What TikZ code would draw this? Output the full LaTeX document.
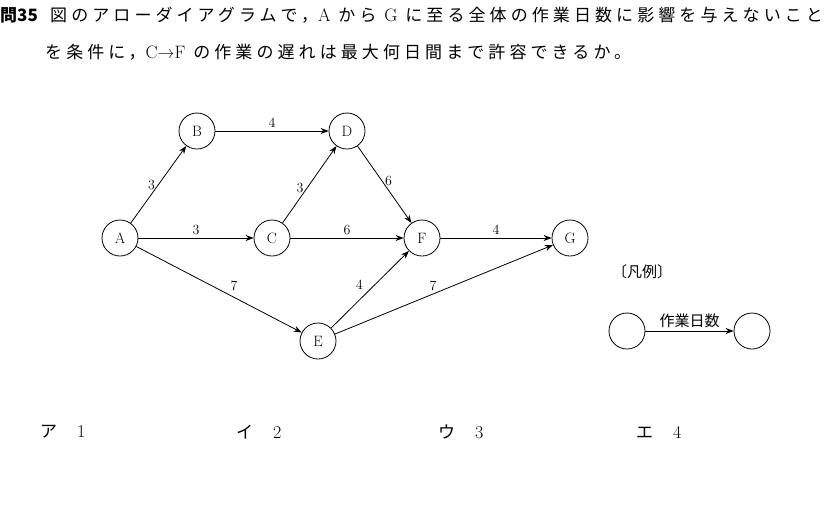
\documentclass[tikz,border=0pt]{standalone}
\usepackage{fontspec}
\newfontfamily\jp{Noto Sans CJK JP}
\newfontfamily\jpw[LetterSpace=24]{Noto Sans CJK JP}
\usetikzlibrary{arrows.meta}
\newcommand{\lat}[1]{{\rmfamily\fontsize{18}{18}\selectfont #1}}
\begin{document}
\begin{tikzpicture}[x=1pt,y=-1pt,
  st/.style={circle,draw,line width=0.8pt,minimum size=36pt,inner sep=0pt,font=\fontsize{15}{15}\selectfont},
  ar/.style={line width=0.8pt,-{Stealth[length=8pt,width=6pt]}},
  lbl/.style={font=\fontsize{14}{14}\selectfont,inner sep=3pt},
  tx/.style={font=\jpw\fontsize{17}{17}\selectfont,anchor=west,inner sep=0pt}]
\useasboundingbox (0,0) rectangle (832,531);
\node[tx] (q0) at (0,15) {{\jp\bfseries 問35}};
\node[tx] (q1) at (50,15) {図のアローダイアグラムで，\lat{A} から \lat{G} に至る全体の作業日数に影響を与えないこと};
\node[tx] (q2) at (45,52) {を条件に，\lat{C→F} の作業の遅れは最大何日間まで許容できるか。};
\node[st] (A) at (120,238) {A};
\node[st] (B) at (197,131) {B};
\node[st] (C) at (272,238) {C};
\node[st] (D) at (347,131) {D};
\node[st] (E) at (318,341) {E};
\node[st] (F) at (422,238) {F};
\node[st] (G) at (570,238) {G};
\draw[ar] (A) -- node[lbl,left] {3} (B);
\draw[ar] (B) -- node[lbl,above] {4} (D);
\draw[ar] (A) -- node[lbl,above] {3} (C);
\draw[ar] (C) -- node[lbl,left,pos=.45] {3} (D);
\draw[ar] (D) -- node[lbl,right,pos=.45] {6} (F);
\draw[ar] (C) -- node[lbl,above] {6} (F);
\draw[ar] (F) -- node[lbl,above] {4} (G);
\draw[ar] (A) -- node[lbl,above right,pos=.55] {7} (E);
\draw[ar] (E) -- node[lbl,above left,pos=.45] {4} (F);
\draw[ar] (E) -- node[lbl,above,pos=.45] {7} (G);
\node[font=\jp\fontsize{15}{15}\selectfont,anchor=west,inner sep=0pt] (lg) at (612,272) {〔凡例〕};
\node[st] (L1) at (627,331) {};
\node[st] (L2) at (752,331) {};
\draw[ar] (L1) -- node[font=\jp\fontsize{15}{15}\selectfont,above] {作業日数} (L2);
\node[tx] (a1) at (40,432) {ア\hspace{20pt}\lat{1}};
\node[tx] (a2) at (236,432) {イ\hspace{20pt}\lat{2}};
\node[tx] (a3) at (438,432) {ウ\hspace{20pt}\lat{3}};
\node[tx] (a4) at (636,432) {エ\hspace{20pt}\lat{4}};
\end{tikzpicture}
\end{document}
